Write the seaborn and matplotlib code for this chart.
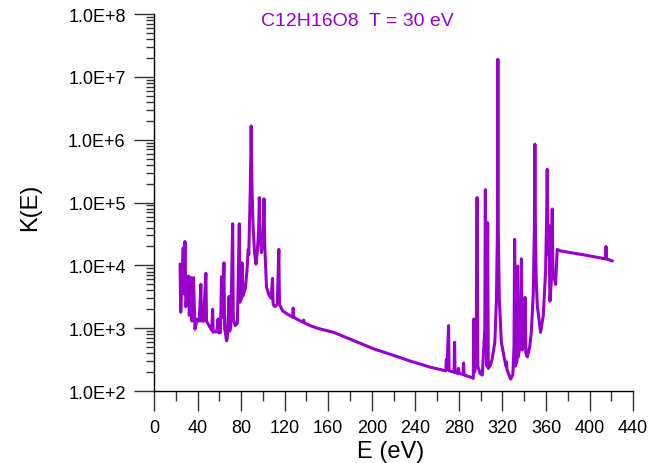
import numpy as np
import pandas as pd
import matplotlib
matplotlib.use("Agg")
import matplotlib.pyplot as plt
import matplotlib.ticker as mticker
import seaborn as sns

# ---- datos (E en eV, K(E)) ----
# grupo de picos de baja energia
left_E = [23.9, 24.5, 26.8, 27.5, 28.4, 29.2, 30.0, 31.6, 32.4, 33.4,
          34.8, 36.2, 37.6, 39.5, 41.5, 43.0, 43.6, 45.5, 47.6, 48.2,
          50.5, 53.0, 53.8, 54.3, 57.5, 58.8, 59.3, 61.0, 62.0, 62.6,
          64.2, 64.8, 66.6, 67.2, 68.9, 69.5, 70.5, 72.2, 72.8, 74.5,
          76.5, 78.3, 78.9, 80.2, 80.8, 81.3, 83.7, 85.3, 86.5, 87.0,
          87.6, 88.4, 88.8, 89.2, 89.6, 90.0, 91.0, 92.3, 93.6, 94.8,
          96.0, 96.7, 97.4, 98.6, 100.2, 101.0, 101.7, 103.3, 105.5, 107.5,
          108.8, 109.4, 111.0, 113.2, 114.6, 115.2, 118.0, 122.0, 127.3, 127.8,
          128.3, 131.0, 136.8, 137.4, 138.0, 143.5]
left_K = [1.05e4, 1.8e3, 1.9e4, 3.5e3, 2.4e4, 2.2e3, 2.9e3, 6.8e3, 1.6e3, 6.5e3,
          1.3e3, 6.4e3, 9.7e2, 1.4e3, 1.3e3, 5.0e3, 1.3e3, 1.3e3, 7.5e3, 1.3e3,
          1.1e3, 9.3e2, 2.0e3, 8.7e2, 8.8e2, 1.4e3, 8.5e2, 8.5e2, 6.6e3, 1.5e3,
          1.1e4, 1.0e3, 6.3e2, 6.8e2, 3.2e3, 9.0e2, 1.1e3, 4.6e4, 1.4e3, 1.1e3,
          1.2e3, 4.6e4, 2.6e3, 3.0e3, 1.1e4, 3.2e3, 4.2e3, 8.0e3, 1.8e4, 1.5e4,
          4.0e4, 1.6e5, 4.6e5, 1.66e6, 4.6e5, 1.6e5, 4.0e4, 1.6e4, 1.05e4, 1.6e4,
          3.5e4, 1.2e5, 3.0e4, 1.6e4, 3.0e4, 1.15e5, 2.0e4, 4.5e3, 3.4e3, 3.0e3,
          6.2e3, 2.4e3, 2.2e3, 2.4e3, 1.8e4, 2.4e3, 1.9e3, 1.7e3, 1.5e3, 2.1e3,
          1.5e3, 1.4e3, 1.25e3, 1.35e3, 1.22e3, 1.1e3]

# cola entre los dos grupos
tail_E = [150.0, 165.0, 185.0, 201.7, 220.0, 235.4, 253.8, 263.0]
tail_K = [1.0e3, 8.6e2, 6.2e2, 4.7e2, 3.7e2, 3.0e2, 2.4e2, 2.2e2]

# grupo de picos de alta energia
right_E = [268.0, 268.5, 269.0, 270.5, 271.0, 275.5, 276.0, 276.5, 279.0, 279.6,
           280.2, 283.8, 284.3, 284.8, 291.5, 293.2, 293.7, 294.3, 295.8, 296.7,
           297.4, 299.5, 301.5, 303.8, 304.3, 304.8, 305.6, 306.4, 307.0, 309.0,
           310.5, 313.0, 314.5, 315.5, 315.8, 316.1, 317.1, 319.0, 321.9, 323.3,
           323.7, 324.2, 327.4, 329.5, 330.6, 331.2, 331.9, 333.3, 333.9, 334.5,
           336.5, 337.4, 338.2, 340.0, 340.8, 341.5, 342.8, 345.0, 346.5, 348.3,
           349.3, 349.8, 350.3, 351.0, 352.0, 355.0, 357.5, 359.6, 360.6, 361.1,
           361.6, 362.2, 362.7, 363.6, 365.0, 365.7, 366.4, 367.3, 368.8, 370.3,
           373.4, 395.0, 414.8, 415.1, 415.5, 421.0]
right_K = [2.1e2, 3.2e2, 2.2e2, 1.1e3, 2.1e2, 2.0e2, 6.0e2, 2.0e2, 1.9e2, 2.3e2,
           1.9e2, 1.85e2, 2.8e2, 1.8e2, 1.65e2, 1.6e2, 1.4e3, 2.0e2, 2.5e2, 1.2e5,
           2.5e2, 1.9e2, 1.8e2, 1.0e3, 1.6e5, 1.0e3, 2.5e2, 4.8e4, 2.3e2, 2.6e2,
           3.2e2, 6.0e2, 2.9e3, 5.0e4, 1.9e7, 5.0e4, 2.9e3, 6.0e2, 3.2e2, 2.5e2,
           2.9e2, 2.2e2, 1.55e2, 1.8e2, 5.0e2, 2.6e4, 2.5e2, 3.0e2, 9.8e3, 3.5e2,
           6.0e2, 1.27e4, 4.5e2, 6.0e2, 3.1e3, 4.0e2, 3.5e2, 5.0e2, 8.6e2, 3.5e3,
           3.6e4, 8.5e5, 3.6e4, 6.0e3, 2.3e3, 8.6e2, 1.6e3, 7.8e3, 6.0e4, 3.4e5,
           6.0e4, 1.5e4, 4.3e4, 2.7e3, 6.0e3, 7.9e4, 8.0e3, 6.8e3, 5.0e3, 1.8e4,
           1.7e4, 1.47e4, 1.27e4, 2.0e4, 1.27e4, 1.18e4]

x_ticks = np.arange(0, 441, 40)
y_decades = [1e2, 1e3, 1e4, 1e5, 1e6, 1e7, 1e8]
line_color = '#9900CC'

df = pd.DataFrame({'E': left_E + tail_E + right_E,
                   'K': left_K + tail_K + right_K})

# ---- grafico ----
sns.set_style("ticks")
plt.rcParams['font.family'] = ['Liberation Sans', 'DejaVu Sans']

fig = plt.figure(figsize=(6.5, 4.64), dpi=100)
ax = fig.add_axes([0.237, 0.155, 0.737, 0.8125])

sns.lineplot(data=df, x='E', y='K', estimator=None, sort=False,
             color=line_color, linewidth=2.2, ax=ax)

ax.set_yscale('log')
ax.set_xlim(0, 440)
ax.set_ylim(1e2, 1e8)
ax.set_xticks(x_ticks)
ax.xaxis.set_minor_locator(mticker.MultipleLocator(20))
ax.set_yticks(y_decades)
ax.yaxis.set_minor_locator(mticker.LogLocator(base=10, subs=np.arange(2, 10), numticks=100))
ax.yaxis.set_major_formatter(mticker.FuncFormatter(lambda v, p: f"1.0E+{int(round(np.log10(v)))}"))
ax.yaxis.set_minor_formatter(mticker.NullFormatter())

ax.tick_params(axis='both', which='major', direction='out', length=14.4, width=1,
               color='#333333', labelcolor='black', labelsize=13, pad=6)
ax.tick_params(axis='x', which='minor', direction='out', length=7, width=1, color='#333333')
ax.tick_params(axis='y', which='minor', direction='out', length=5.5, width=1, color='#333333')
sns.despine(ax=ax)
for s in ['left', 'bottom']:
    ax.spines[s].set_color('black')
    ax.spines[s].set_linewidth(1)

ax.set_xlabel('E (eV)', fontsize=17, va='center', color='black')
ax.xaxis.set_label_coords(0.493, -0.159)
ax.set_ylabel('K(E)', fontsize=17, va='center', ha='center', color='black')
ax.yaxis.set_label_coords(-0.259, 0.491)

fig.text(357 / 650, 1 - 21 / 464, 'C12H16O8  T = 30 eV', ha='center', va='center',
         color=line_color, fontsize=14)

plt.savefig('out.png', dpi=100)
plt.close()
